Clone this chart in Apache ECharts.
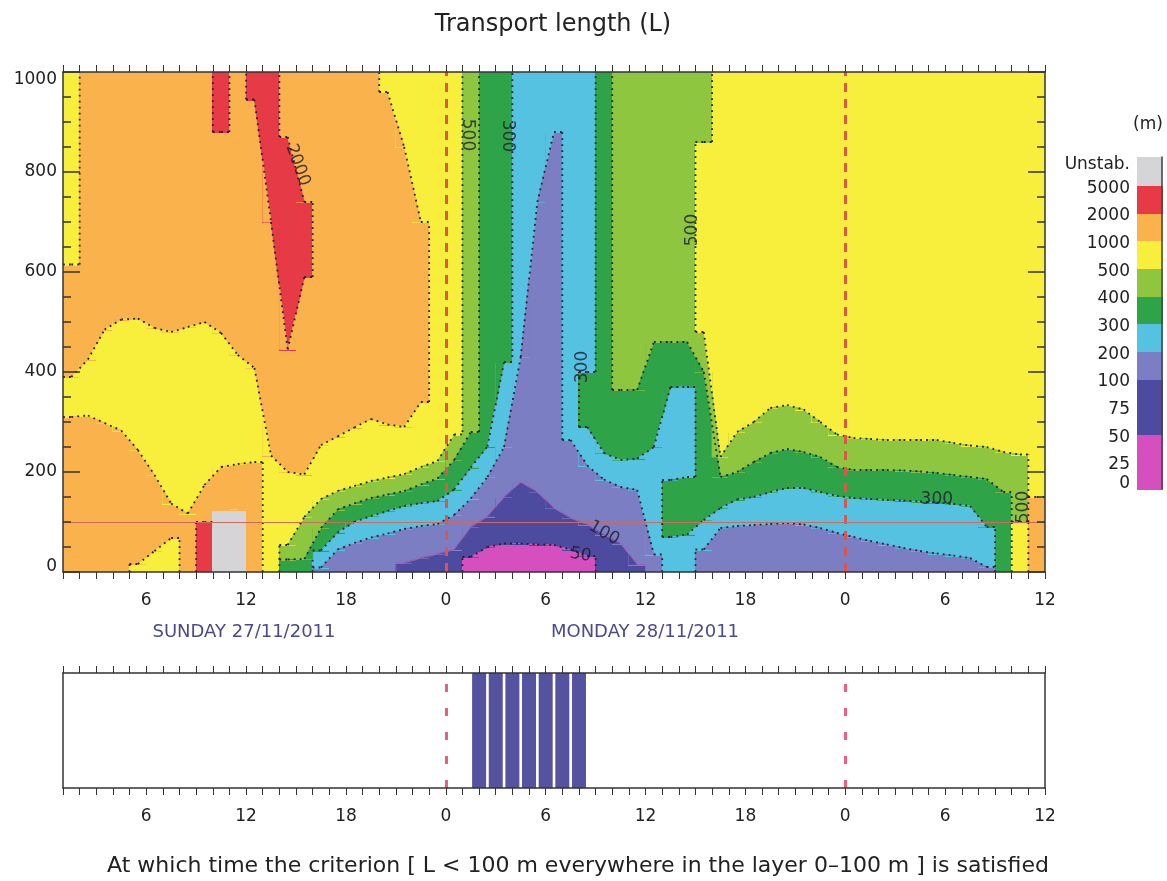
<!DOCTYPE html>
<html>
<head>
<meta charset="utf-8">
<script src="https://cdn.jsdelivr.net/npm/echarts@6/dist/echarts.min.js"></script>
<style>
  html, body { margin: 0; padding: 0; background: #fff; }
  #chart { width: 1167px; height: 881px; }
</style>
</head>
<body>
<div id="chart"></div>
<script>
var font = "DejaVu Sans";

// colour classes of the transport length
var levelCodes = ["m", "d", "p", "c", "G", "l", "y", "o", "r", "g"];
var levelColors = ["#d64fbf", "#4d4b9f", "#7c7ec3", "#56c2e2", "#2fa347",
                   "#8ec640", "#f7ef3b", "#f9b24c", "#e63b46", "#d5d5d7"];

// one profile for each hour (hour 1 -> 2, 2 -> 3 ...), bands from the ground up: class:top(m)
var firstHour = 1;
var profiles = [
  "o:310 y:390 o:615 y:1000",
  "o:313 y:425 o:1000",
  "o:298 y:485 o:1000",
  "o:283 y:505 o:1000",
  "y:16 o:244 y:507 o:1000",
  "y:42 o:194 y:488 o:1000",
  "y:68 o:137 y:480 o:1000",
  "o:117 y:490 o:1000",
  "r:100 o:174 y:500 o:1000",
  "g:125 o:210 y:478 o:880 r:1000",
  "g:125 o:216 y:434 o:1000",
  "o:220 y:408 o:945 r:1000",
  "y:233 o:700 r:1000",
  "G:25 l:54 y:200 o:445 r:870 o:1000",
  "G:26 l:110 y:195 o:590 r:740 o:1000",
  "p:9 c:43 G:88 l:146 y:254 o:1000",
  "p:45 c:79 G:125 l:162 y:271 o:1000",
  "p:58 c:100 G:137 l:172 y:289 o:1000",
  "p:69 c:112 G:148 l:182 y:306 o:1000",
  "p:77 c:122 G:155 l:189 y:295 o:960 y:1000",
  "d:18 p:86 c:132 G:162 l:196 y:290 o:850 y:1000",
  "d:28 p:92 c:138 G:175 l:210 y:340 o:700 y:1000",
  "d:36 p:96 c:142 G:187 l:222 y:1000",
  "d:45 p:114 c:165 G:224 l:275 y:1000",
  "m:30 d:90 p:147 c:209 G:280 l:1000",
  "m:50 d:111 p:190 c:251 G:1000",
  "m:57 d:150 p:250 c:420 G:1000",
  "m:57 d:180 p:430 c:1000",
  "m:55 d:160 p:740 c:1000",
  "m:54 d:128 p:880 c:1000",
  "m:45 d:108 p:264 c:1000",
  "m:32 d:95 p:213 c:290 G:400 c:1000",
  "d:75 p:185 c:238 G:1000",
  "d:57 p:170 c:224 G:364 l:1000",
  "d:15 p:164 c:227 G:364 l:1000",
  "p:35 c:250 G:460 l:1000",
  "c:70 G:184 c:370 G:460 l:1000",
  "c:75 G:190 c:370 G:460 l:1000",
  "p:45 c:104 G:400 l:480 y:860 l:1000",
  "p:88 c:128 G:190 l:230 y:1000",
  "p:92 c:145 G:200 l:280 y:1000",
  "p:94 c:150 G:220 l:300 y:1000",
  "p:96 c:160 G:238 l:328 y:1000",
  "p:98 c:168 G:246 l:334 y:1000",
  "p:95 c:168 G:240 l:325 y:1000",
  "p:88 c:160 G:230 l:300 y:1000",
  "p:78 c:152 G:210 l:275 y:1000",
  "p:70 c:148 G:204 l:268 y:1000",
  "p:62 c:146 G:204 l:266 y:1000",
  "p:55 c:144 G:204 l:264 y:1000",
  "p:48 c:143 G:203 l:264 y:1000",
  "p:42 c:141 G:201 l:264 y:1000",
  "p:37 c:139 G:198 l:264 y:1000",
  "p:33 c:136 G:194 l:258 y:1000",
  "p:28 c:132 G:190 l:253 y:1000",
  "p:10 c:90 G:186 l:250 y:1000",
  "G:160 l:240 y:1000",
  "y:100 l:235 y:1000",
  "o:150 y:1000"
];

// contour labels
var labelHours   = [15.1, 25.3, 27.7, 32.2, 38.8, 53.5, 58.7, 33.5, 32.1];
var labelHeights = [814, 874, 872, 410, 684, 144, 130, 78, 34];
var labelTexts   = ["2000", "500", "300", "300", "500", "300", "500", "100", "50"];
var labelAngles  = [-70, -90, -90, 90, 90, 0, 90, -30, -10];

// colour scale
var scaleLabels = ["0", "25", "50", "75", "100", "200", "300", "400", "500", "1000", "2000", "5000", "Unstab."];
var scaleBands = "mmddpcGlyorg";

// hours when L < 100 m in the whole 0-100 m layer
var criterionHours = [26, 27, 28, 29, 30, 31, 32];

var dayLines = [24, 48];
var refHeight = 100;
var topHeight = 1000;

var GRAY = levelCodes.indexOf("g");
var DARK = levelCodes.indexOf("d");
var PURPLE = levelCodes.indexOf("p");

// cells of each column, and the class changes inside each column
var cells = [];
var columnBands = [];
var columnEdges = [];
profiles.forEach(function (p, i) {
  var bottom = 0, prev = -1, edges = [], bands = [];
  p.split(" ").forEach(function (band) {
    var parts = band.split(":");
    var top = +parts[1];
    var cls = levelCodes.indexOf(parts[0]);
    cells.push([firstHour + i, bottom, firstHour + i + 1, top, cls]);
    bands.push({ bottom: bottom, top: top, cls: cls });
    if (prev >= 0) edges.push({ z: bottom, below: prev, above: cls });
    prev = cls;
    bottom = top;
  });
  columnBands.push(bands);
  columnEdges.push(edges);
});

function classAt(i, z) {
  var bands = columnBands[i];
  for (var k = 0; k < bands.length; k++) {
    if (z >= bands[k].bottom && z < bands[k].top) return bands[k].cls;
  }
  return bands[bands.length - 1].cls;
}

// join the same class change in neighbouring columns
var links = [];
var contourSegs = [];
for (var i = 0; i < columnEdges.length - 1; i++) {
  var A = columnEdges[i], B = columnEdges[i + 1], used = {};
  A.forEach(function (a) {
    var best = -1, bestD = 360;
    B.forEach(function (b, k) {
      var d = Math.abs(b.z - a.z);
      if (!used[k] && b.below === a.below && b.above === a.above && d < bestD) {
        best = k; bestD = d;
      }
    });
    if (best >= 0) {
      used[best] = true;
      a.right = true;
      B[best].left = true;
      var seg = [firstHour + i + 0.5, a.z, firstHour + i + 1.5, B[best].z, a.below, a.above];
      links.push(seg);
      contourSegs.push(seg);
    }
  });
}
columnEdges.forEach(function (edges, i) {
  edges.forEach(function (e) {
    if (!e.left) contourSegs.push([firstHour + i, e.z, firstHour + i + 0.5, e.z, e.below, e.above]);
    if (!e.right) contourSegs.push([firstHour + i + 0.5, e.z, firstHour + i + 1, e.z, e.below, e.above]);
  });
});

// vertical pieces of the class changes, on the column sides not covered by a joined change
for (var j = 0; j < columnBands.length - 1; j++) {
  var xs = firstHour + j + 1;
  var breaks = [0, topHeight];
  columnEdges[j].concat(columnEdges[j + 1]).forEach(function (e) { breaks.push(e.z); });
  breaks.sort(function (a, b) { return a - b; });
  var myLinks = links.filter(function (l) { return l[0] === firstHour + j + 0.5; });
  for (var b = 0; b < breaks.length - 1; b++) {
    var z0 = breaks[b], z1 = breaks[b + 1];
    if (z1 <= z0) continue;
    var zm = (z0 + z1) / 2;
    var ca = classAt(j, zm), cb = classAt(j + 1, zm);
    if (ca === cb) continue;
    var covered = myLinks.some(function (l) {
      return zm > Math.min(l[1], l[3]) && zm < Math.max(l[1], l[3]);
    });
    if (!covered) contourSegs.push([xs, z0, xs, z1, ca, cb]);
  }
}

var scaleCells = [];
for (var s = 0; s < scaleBands.length; s++) {
  scaleCells.push([0, s, 1, s + 1, levelCodes.indexOf(scaleBands[s])]);
}

var labelData = labelTexts.map(function (t, i) {
  return {
    value: [labelHours[i], labelHeights[i]],
    name: t,
    label: { rotate: labelAngles[i] }
  };
});

function renderCell(params, api) {
  var a = api.coord([api.value(0), api.value(1)]);
  var b = api.coord([api.value(2), api.value(3)]);
  var x = Math.floor(a[0]), y = Math.floor(b[1]);
  return {
    type: "rect",
    shape: { x: x, y: y, width: Math.ceil(b[0]) - x + 1, height: Math.ceil(a[1]) - y + 1 },
    style: { fill: levelColors[api.value(4)] }
  };
}

// softens the steps between two columns along a joined class change
function renderWedge(params, api) {
  var h0 = api.value(0), z0 = api.value(1), h1 = api.value(2), z1 = api.value(3);
  var below = api.value(4), above = api.value(5);
  var e = (h0 + h1) / 2, mid = (z0 + z1) / 2;
  var rising = z1 > z0;
  var cl = levelColors[rising ? below : above];
  var cr = levelColors[rising ? above : below];
  return {
    type: "group",
    children: [
      {
        type: "polygon",
        shape: { points: [api.coord([h0, z0]), api.coord([e, z0]), api.coord([e, mid])] },
        style: { fill: cl, stroke: cl, lineWidth: 0.8 }
      },
      {
        type: "polygon",
        shape: { points: [api.coord([e, mid]), api.coord([e, z1]), api.coord([h1, z1])] },
        style: { fill: cr, stroke: cr, lineWidth: 0.8 }
      }
    ]
  };
}

function renderContour(params, api) {
  var below = api.value(4), above = api.value(5);
  if (below === GRAY || above === GRAY) return { type: "group", children: [] };
  var p = api.coord([api.value(0), api.value(1)]);
  var q = api.coord([api.value(2), api.value(3)]);
  var solid = (below === DARK && above === PURPLE) || (below === PURPLE && above === DARK);
  return {
    type: "line",
    shape: { x1: p[0], y1: p[1], x2: q[0], y2: q[1] },
    style: solid
      ? { stroke: "#a65ab4", lineWidth: 1 }
      : { stroke: "#1e1e2e", lineWidth: 1.8, lineDash: [1.8, 4.2] }
  };
}

function hourLabel(v) {
  return v % 6 === 0 ? String(v % 24) : "";
}

var lineCol = "#333";

function timeAxis(grid, pos, labels) {
  return {
    gridIndex: grid,
    type: "value",
    position: pos,
    z: 10,
    min: 1,
    max: 60,
    interval: 1,
    axisLine: { onZero: false, lineStyle: { color: lineCol, width: 1.5 } },
    axisTick: { length: 7, lineStyle: { color: lineCol } },
    axisLabel: {
      show: labels,
      formatter: hourLabel,
      fontSize: 17,
      color: "#222",
      fontFamily: font,
      margin: 20
    },
    splitLine: { show: false }
  };
}

function heightAxis(pos, labels) {
  return {
    gridIndex: 0,
    type: "value",
    position: pos,
    z: 10,
    min: 0,
    max: topHeight,
    interval: 200,
    axisLine: { onZero: false, lineStyle: { color: lineCol, width: 1.5 } },
    axisTick: { inside: true, length: 17, lineStyle: { color: lineCol, width: 1.5 } },
    minorTick: { show: true, splitNumber: 4, length: 8, lineStyle: { color: lineCol, width: 1.5 } },
    axisLabel: {
      show: labels, fontSize: 17, color: "#222", fontFamily: font, margin: 6,
      formatter: function (v) {
        if (v === 1000) return "{t|1000}";
        if (v === 0) return "{b|0}";
        return String(v);
      },
      rich: {
        t: { fontSize: 17, fontFamily: font, color: "#222", padding: [16, 0, 0, 0] },
        b: { fontSize: 17, fontFamily: font, color: "#222", padding: [0, 0, 10, 0] }
      }
    },
    splitLine: { show: false },
    minorSplitLine: { show: false }
  };
}

function plainAxis(grid, pos, maxV, col) {
  return {
    gridIndex: grid, type: "value", min: 0, max: maxV, position: pos, z: 10,
    axisLine: { onZero: false, lineStyle: { color: col, width: 1.5 } },
    axisTick: { show: false }, axisLabel: { show: false }, splitLine: { show: false }
  };
}

var chart = echarts.init(document.getElementById("chart"));

var option = {
  animation: false,
  backgroundColor: "#fff",
  grid: [
    { left: 63, top: 72, width: 982, height: 500 },
    { left: 63, top: 673, width: 982, height: 115 },
    { left: 1137, top: 157, width: 25, height: 332 }
  ],
  xAxis: [
    timeAxis(0, "bottom", true),
    timeAxis(0, "top", false),
    timeAxis(1, "bottom", true),
    timeAxis(1, "top", false),
    { gridIndex: 2, type: "value", min: 0, max: 1, show: false }
  ],
  yAxis: [
    heightAxis("left", true),
    heightAxis("right", false),
    plainAxis(1, "left", 1, lineCol),
    plainAxis(1, "right", 1, lineCol),
    {
      gridIndex: 2, type: "value", min: 0, max: 12, interval: 1, position: "left",
      axisLine: { show: false }, axisTick: { show: false }, splitLine: { show: false },
      axisLabel: {
        fontSize: 17, color: "#222", fontFamily: font, margin: 7,
        formatter: function (v) {
          if (v === 12) return "{u|" + scaleLabels[v] + "}";
          if (v === 0) return "{z|" + scaleLabels[v] + "}";
          return "{n|" + scaleLabels[v] + "}";
        },
        rich: {
          u: { fontSize: 17, fontFamily: font, color: "#222", padding: [16, 0, 0, 0] },
          n: { fontSize: 17, fontFamily: font, color: "#222", padding: [7, 0, 0, 0] },
          z: { fontSize: 17, fontFamily: font, color: "#222", padding: [0, 0, 10, 0] }
        }
      }
    },
    plainAxis(2, "right", 12, "#444")
  ],
  series: [
    {
      type: "custom",
      xAxisIndex: 0,
      yAxisIndex: 0,
      clip: true,
      silent: true,
      z: 2,
      renderItem: renderCell,
      encode: { x: [0, 2], y: [1, 3] },
      data: cells
    },
    {
      type: "custom",
      xAxisIndex: 0,
      yAxisIndex: 0,
      clip: true,
      silent: true,
      z: 3,
      renderItem: renderWedge,
      encode: { x: [0, 2], y: [1, 3] },
      data: links
    },
    {
      type: "custom",
      xAxisIndex: 0,
      yAxisIndex: 0,
      clip: true,
      silent: true,
      z: 4,
      renderItem: renderContour,
      encode: { x: [0, 2], y: [1, 3] },
      data: contourSegs,
      markLine: {
        silent: true,
        symbol: "none",
        label: { show: false },
        data: [
          { xAxis: dayLines[0], lineStyle: { color: "#e0544c", width: 3, type: [9, 7] } },
          { xAxis: dayLines[1], lineStyle: { color: "#e0544c", width: 3, type: [9, 7] } },
          { yAxis: refHeight, lineStyle: { color: "#cf6a5e", width: 1, type: "solid" } }
        ]
      }
    },
    {
      type: "scatter",
      xAxisIndex: 0,
      yAxisIndex: 0,
      symbolSize: 0,
      silent: true,
      z: 5,
      data: labelData,
      label: {
        show: true,
        position: "inside",
        formatter: "{b}",
        fontSize: 17,
        color: "#1a1a2a",
        fontFamily: font
      }
    },
    {
      type: "bar",
      xAxisIndex: 2,
      yAxisIndex: 2,
      barWidth: 14,
      silent: true,
      itemStyle: { color: "#55529f" },
      data: criterionHours.map(function (h) { return [h, 1]; }),
      markLine: {
        silent: true,
        symbol: "none",
        label: { show: false },
        lineStyle: { color: "#e8607a", width: 3, type: [8, 16] },
        data: [{ xAxis: dayLines[0] }, { xAxis: dayLines[1] }]
      }
    },
    {
      type: "custom",
      xAxisIndex: 4,
      yAxisIndex: 4,
      silent: true,
      renderItem: renderCell,
      encode: { x: [0, 2], y: [1, 3] },
      data: scaleCells
    }
  ],
  graphic: [
    { type: "text", x: 553, y: 25, style: { text: "Transport length (L)", fontSize: 24, fontFamily: font, fill: "#222", align: "center", verticalAlign: "middle" } },
    { type: "text", x: 244, y: 632, style: { text: "SUNDAY 27/11/2011", fontSize: 18, fontFamily: font, fill: "#4a4a8c", align: "center", verticalAlign: "middle" } },
    { type: "text", x: 645, y: 632, style: { text: "MONDAY 28/11/2011", fontSize: 18, fontFamily: font, fill: "#4a4a8c", align: "center", verticalAlign: "middle" } },
    { type: "text", x: 1148, y: 125, style: { text: "(m)", fontSize: 17, fontFamily: font, fill: "#222", align: "center", verticalAlign: "middle" } },
    { type: "text", x: 578, y: 866, style: { text: "At which time the criterion [ L < 100 m everywhere in the layer 0\u2013100 m ] is satisfied", fontSize: 22, fontFamily: font, fill: "#222", align: "center", verticalAlign: "middle" } }
  ]
};

chart.setOption(option);
</script>
</body>
</html>
